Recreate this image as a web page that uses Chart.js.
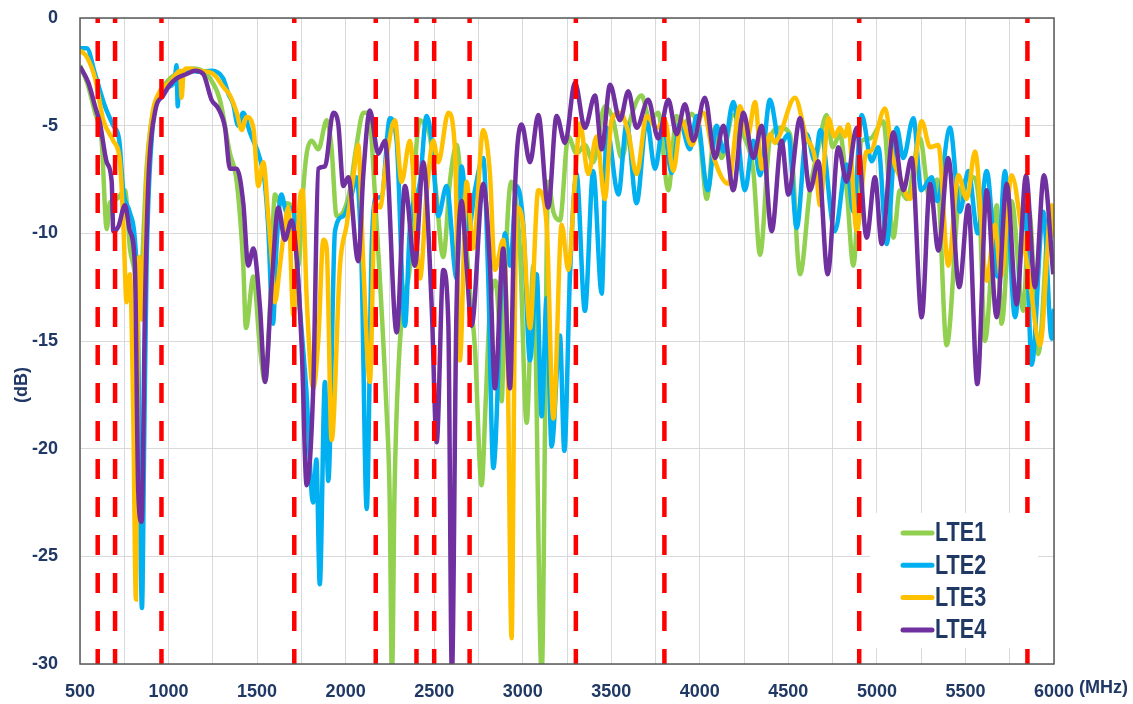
<!DOCTYPE html>
<html>
<head>
<meta charset="utf-8">
<script src="https://cdn.jsdelivr.net/npm/chart.js@4.4.1/dist/chart.umd.min.js"></script>
<style>
  html, body { margin: 0; padding: 0; background: #ffffff; }
  #wrap { width: 1133px; height: 704px; }
</style>
</head>
<body>
<div id="wrap"><canvas id="grafico" width="1133" height="704"></canvas></div>
<script>
// =============================
// DATOS (MHz / dB)
// =============================
const lte1Frec = [500,540,585,622,651,668,707,754,782,810,830,850,876,904,933,970,1008,1070,1140,1200,1234,1290,1347,1385,1422,1437,1479,1516,1545,1573,1601,1629,1667,1705,1733,1760,1780,1808,1846,1893,1920,1949,1987,2024,2060,2100,2128,2175,2231,2248,2262,2276,2300,2330,2363,2390,2420,2450,2476,2510,2551,2590,2627,2655,2683,2705,2730,2768,2790,2815,2845,2865,2881,2900,2935,2984,3022,3060,3107,3144,3173,3210,3257,3304,3351,3398,3464,3511,3559,3606,3671,3718,3765,3822,3869,3907,3954,4001,4039,4086,4123,4189,4250,4302,4340,4396,4453,4509,4566,4622,4670,4716,4750,4791,4830,4867,4914,4961,5036,5093,5130,5168,5243,5300,5340,5394,5469,5544,5580,5610,5676,5704,5760,5827,5860,5911,5977,6000];
const lte1 = [-2.2,-3,-4.4,-5.7,-9.8,-8.6,-8.4,-8,-10.7,-11.9,-14,-11.5,-7,-4.75,-3.8,-3.2,-2.8,-2.5,-2.35,-2.5,-2.8,-3.8,-6.3,-7.6,-11.5,-14.4,-12,-15.3,-16.9,-13.4,-8.2,-8.6,-8.6,-9,-11.5,-8,-6.3,-5.7,-6.1,-4.75,-6,-9.2,-9,-8,-6,-4.4,-4.4,-9.6,-18.2,-22,-30.5,-22,-16,-13,-11.5,-7,-4.75,-5,-5.5,-8,-11.1,-7.5,-5.9,-8,-10.7,-13,-15.3,-21.7,-18,-13.4,-12.2,-14,-17.8,-12,-7.6,-10.7,-18.8,-11.5,-30.5,-7.6,-9,-9.4,-5.5,-6.3,-5.9,-6.7,-4.1,-4.75,-6.5,-4.75,-3.6,-4.75,-4.4,-8,-4.55,-5,-4.45,-5.6,-8.4,-5.1,-6.5,-4.5,-5.5,-7.1,-11,-5.6,-5.1,-5.4,-11.9,-8,-6,-4.5,-6,-5.4,-8,-11.5,-5.7,-5.6,-4.8,-10.2,-8,-8.4,-5.6,-8.5,-7.5,-15.2,-8,-7.4,-9,-15,-8.7,-14.2,-8.5,-13.6,-9,-15.6,-9.1,-10];

const lte2Frec = [500,538,585,641,688,722,744,780,810,825,850,862,876,904,951,998,1035,1045,1052,1060,1120,1180,1243,1308,1337,1365,1393,1421,1459,1515,1543,1562,1590,1609,1637,1666,1703,1741,1778,1816,1835,1854,1883,1902,1940,1987,2034,2062,2090,2119,2147,2166,2203,2250,2288,2335,2363,2420,2457,2486,2523,2570,2627,2655,2693,2730,2777,2805,2834,2881,2900,2928,2966,3003,3041,3079,3107,3135,3163,3210,3235,3267,3304,3351,3398,3446,3474,3540,3587,3643,3700,3747,3794,3841,3888,3944,3982,4045,4095,4133,4189,4255,4302,4340,4396,4453,4500,4547,4603,4650,4680,4763,4829,4867,4914,4970,5008,5055,5112,5149,5206,5250,5309,5340,5413,5469,5516,5570,5620,5680,5723,5780,5836,5874,5940,5987,6000];
const lte2 = [-1.4,-1.4,-2.6,-4.1,-5,-5.7,-8,-9,-10.3,-13,-27.4,-20,-11.5,-5.7,-3.6,-3.2,-2.9,-2.2,-4.1,-2.6,-2.45,-2.5,-2.45,-2.8,-3.5,-4,-5,-4.4,-5.3,-6.5,-7.6,-9.6,-14.2,-10.7,-8.2,-9,-8.8,-13.4,-17.3,-22.5,-20.5,-26.3,-16.9,-21.5,-9.9,-9.2,-8.2,-7.4,-11.5,-22.8,-10.7,-8.4,-8.3,-4.65,-5.7,-14.3,-9.75,-7.6,-4.55,-5.7,-9.2,-7.8,-12.1,-6.9,-9.9,-8,-6.5,-12,-20.9,-12.2,-10,-11.5,-7.8,-9.6,-15.9,-11.9,-18.5,-13,-19.9,-14.75,-20.1,-11.9,-7.25,-13.6,-7.1,-12.8,-5.1,-8.2,-4.9,-8.6,-4.75,-7,-4.95,-7.2,-4.85,-6.1,-4.55,-8,-5,-6.2,-3.9,-8,-5.7,-7.3,-3.8,-5.9,-5.4,-9.75,-5.4,-6.65,-5.2,-9.9,-6.8,-9,-4.5,-6.65,-6,-10.5,-5.1,-6.5,-4.65,-8,-7.4,-8.5,-5.1,-9,-7.1,-10,-7.1,-12,-7.1,-13.9,-8.7,-16.1,-9,-14.9,-13.5];

const lte3Frec = [500,538,585,632,688,726,745,763,782,800,816,828,835,850,876,904,951,1008,1065,1074,1085,1102,1177,1253,1309,1347,1385,1413,1441,1479,1507,1535,1563,1582,1601,1629,1657,1676,1705,1742,1757,1780,1817,1846,1874,1893,1921,1968,2006,2043,2071,2100,2137,2166,2194,2231,2278,2316,2363,2420,2457,2495,2523,2580,2617,2645,2683,2721,2777,2815,2843,2890,2915,2937,2955,2966,3000,3041,3088,3135,3173,3220,3257,3295,3323,3370,3417,3464,3502,3549,3596,3643,3700,3756,3803,3850,3897,3954,4020,4080,4161,4227,4270,4312,4350,4396,4425,4453,4537,4600,4650,4679,4726,4760,4791,4820,4838,4886,4942,4961,5046,5090,5130,5187,5253,5300,5347,5403,5460,5507,5554,5620,5667,5700,5761,5820,5860,5921,5987,6000];
const lte3 = [-1.5,-1.8,-2.8,-4.75,-5.7,-6.7,-9.6,-13.2,-11.9,-18,-27,-12,-11.1,-14,-7.6,-4.75,-3.4,-3,-2.45,-3.7,-2.5,-2.35,-2.45,-2.6,-3.2,-3.6,-4.4,-5.2,-4.6,-5.1,-7.8,-6.7,-9.2,-11.1,-13.2,-11.5,-9.6,-8.8,-13.8,-8.4,-8,-13,-17.2,-14.9,-10.3,-10.7,-19.6,-11.5,-9.6,-7.4,-5.9,-11.5,-16.9,-8.6,-8.8,-6.5,-4.75,-7.6,-5.7,-12.1,-8.2,-5.7,-6.7,-4.4,-6.1,-15.9,-7.6,-10.7,-5.2,-7.25,-11.7,-10.3,-16,-28.8,-14,-8.8,-9.5,-14.4,-8,-9.6,-18.6,-9.6,-11.7,-7.6,-4.9,-7.25,-5.5,-8.4,-4.75,-4.4,-5.3,-7.25,-4.55,-5.1,-4.75,-7.1,-4.75,-5.9,-4.4,-6.5,-7.7,-4.1,-5.5,-3.9,-7,-5.4,-5.8,-5.4,-3.7,-5.5,-6.5,-8.7,-4.65,-5.5,-5.1,-5.5,-4.95,-9.9,-6.2,-6.2,-4.2,-6.5,-7.4,-8.4,-4.8,-6,-5.9,-11.5,-7.3,-8.4,-6.2,-12.2,-9.6,-12,-7.3,-10,-12,-15.2,-8.7,-10.2];

const lte4Frec = [500,547,585,613,651,679,688,716,754,782,810,829,848,867,886,923,970,1008,1046,1102,1149,1196,1243,1281,1319,1347,1385,1422,1450,1479,1516,1545,1582,1620,1657,1695,1723,1752,1780,1817,1846,1883,1930,1958,1987,2015,2071,2100,2137,2184,2222,2288,2335,2391,2438,2486,2514,2551,2580,2600,2625,2655,2683,2711,2777,2815,2843,2890,2928,2956,2994,3041,3088,3144,3191,3239,3295,3351,3408,3446,3493,3549,3596,3643,3709,3765,3822,3869,3916,3963,4029,4086,4133,4189,4246,4302,4349,4406,4462,4500,4566,4622,4669,4722,4782,4829,4886,4942,4989,5027,5093,5149,5196,5253,5300,5347,5403,5465,5516,5567,5620,5676,5733,5789,5842,5893,5943,5996];
const lte4 = [-2.25,-3,-4.1,-4.9,-6.7,-7.6,-9.9,-9.7,-8.7,-9.9,-11.5,-22,-23.4,-13.4,-7.6,-4.4,-3.6,-3.1,-2.8,-2.6,-2.45,-2.6,-3.8,-4.2,-5.1,-7,-7,-8.6,-11.5,-10.7,-13.4,-16.9,-12.4,-8.8,-10.3,-9.4,-11.1,-15.3,-21.7,-17.2,-7,-6.9,-4.4,-4.9,-7.8,-7.4,-11.3,-7.25,-4.3,-6.3,-5.7,-14.6,-7.8,-11.5,-6.7,-13.4,-19.7,-11.7,-14.2,-30.5,-14,-8.5,-11.5,-14.3,-7.7,-11.5,-17.2,-10.7,-17.2,-8,-4.95,-6.7,-4.5,-8.8,-4.55,-5.8,-3,-5.1,-3.6,-6.1,-3.1,-4.75,-3.4,-5.1,-3.8,-5.6,-3.8,-5.4,-4,-5.7,-3.7,-6.5,-5,-8,-4.4,-6.5,-5,-9.9,-5.7,-8.2,-4.65,-8,-6.65,-11.9,-6,-7.6,-5.1,-10.2,-7.4,-10.5,-5.3,-8,-6.5,-13.9,-7.7,-10.8,-6.5,-12.5,-8.7,-17,-8,-13.9,-7.7,-13.3,-7.3,-12.5,-7.3,-11.9];

// bordes de bandas (lineas rojas punteadas)
const bandas = [600, 698, 960, 1710, 2170, 2400, 2500, 2700, 3300, 3800, 4900, 5850];

const series = ["LTE1", "LTE2", "LTE3", "LTE4"];
const colores = ["#92D050", "#00B0F0", "#FFC000", "#7030A0"];

const AZUL_TEXTO = "#1F3864";
const FUENTE = "'Liberation Sans', Arial, sans-serif";

// =============================
// UTILIDADES
// =============================
function armarPuntos(frec, valores) {
  return frec.map((f, i) => ({ x: f, y: valores[i] }));
}

// =============================
// PLUGINS
// =============================
const bandasPlugin = {
  id: "bandas",
  afterDatasetsDraw(chart) {
    const { ctx, chartArea, scales } = chart;
    ctx.save();
    ctx.strokeStyle = "#FF0000";
    ctx.lineWidth = 4.5;
    ctx.setLineDash([20, 18]);
    ctx.lineDashOffset = 15;
    bandas.forEach(b => {
      const x = scales.x.getPixelForValue(b);
      ctx.beginPath();
      ctx.moveTo(x, chartArea.top);
      ctx.lineTo(x, chartArea.bottom);
      ctx.stroke();
    });
    ctx.restore();
  }
};

const marcoPlugin = {
  id: "marco",
  afterDraw(chart) {
    const { ctx, chartArea } = chart;
    ctx.save();

    // leyenda
    ctx.fillStyle = "#ffffff";
    ctx.fillRect(870, 513, 168, 135);
    ctx.textBaseline = "middle";
    ctx.textAlign = "left";
    series.forEach((s, i) => {
      const y = 533 + i * 32.3;
      ctx.strokeStyle = colores[i];
      ctx.lineWidth = 5;
      ctx.lineCap = "round";
      ctx.beginPath();
      ctx.moveTo(903, y);
      ctx.lineTo(932, y);
      ctx.stroke();
      // texto angosto (tipo Arial Narrow)
      ctx.save();
      ctx.translate(935, y + 1);
      ctx.scale(0.8, 1);
      ctx.fillStyle = AZUL_TEXTO;
      ctx.font = "bold 27px " + FUENTE;
      ctx.fillText(s, 0, 0);
      ctx.restore();
    });

    // borde del area
    ctx.strokeStyle = "#595959";
    ctx.lineWidth = 1.5;
    ctx.lineCap = "butt";
    ctx.strokeRect(chartArea.left, chartArea.top, chartArea.right - chartArea.left, chartArea.bottom - chartArea.top);

    // titulos de ejes
    ctx.fillStyle = AZUL_TEXTO;
    ctx.font = "bold 18px " + FUENTE;
    ctx.textAlign = "left";
    ctx.fillText("(MHz)", 1079, 688);
    ctx.translate(22, 385);
    ctx.rotate(-Math.PI / 2);
    ctx.textAlign = "center";
    ctx.fillText("(dB)", 0, 0);
    ctx.restore();
  }
};

// =============================
// GRAFICO
// =============================
const datosSeries = [
  armarPuntos(lte1Frec, lte1),
  armarPuntos(lte2Frec, lte2),
  armarPuntos(lte3Frec, lte3),
  armarPuntos(lte4Frec, lte4)
];

new Chart(document.getElementById("grafico"), {
  type: "line",
  data: {
    datasets: series.map((s, i) => ({
      label: s,
      data: datosSeries[i],
      borderColor: colores[i],
      backgroundColor: colores[i],
      borderWidth: 4.5,
      pointRadius: 0,
      cubicInterpolationMode: "monotone",
      order: 4 - i
    }))
  },
  options: {
    responsive: false,
    animation: false,
    layout: {
      padding: { top: 18, right: 79, left: 0, bottom: 0 }
    },
    plugins: {
      legend: { display: false },
      tooltip: { enabled: false }
    },
    scales: {
      x: {
        type: "linear",
        min: 500,
        max: 6000,
        afterFit: s => { s.height = 40; },
        grid: { color: "#D9D9D9", lineWidth: 1, drawTicks: false },
        border: { display: false },
        ticks: {
          stepSize: 250,
          autoSkip: false,
          maxRotation: 0,
          padding: 17,
          color: AZUL_TEXTO,
          font: { family: FUENTE, size: 18, weight: "bold" },
          callback: v => (v % 500 === 0 ? v : "")
        }
      },
      y: {
        min: -30,
        max: 0,
        afterFit: s => { s.width = 80; },
        grid: { color: "#D9D9D9", lineWidth: 1, drawTicks: true, tickLength: 18, tickColor: "rgba(0,0,0,0)" },
        border: { display: false },
        ticks: {
          stepSize: 5,
          padding: 4,
          color: AZUL_TEXTO,
          font: { family: FUENTE, size: 18, weight: "bold" }
        }
      }
    }
  },
  plugins: [bandasPlugin, marcoPlugin]
});
</script>
</body>
</html>
